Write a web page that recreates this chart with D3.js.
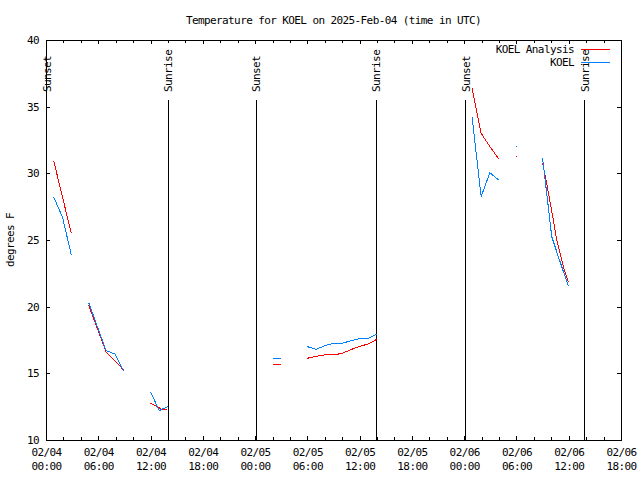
<!DOCTYPE html>
<html>
<head>
<meta charset="utf-8">
<script src="https://cdn.jsdelivr.net/npm/d3@7"></script>
<style>
  html, body { margin: 0; padding: 0; background: #fff; }
  svg { display: block; }
  text { font-family: "DejaVu Sans Mono", "Liberation Mono", monospace; font-size: 11px; letter-spacing: -0.6px; fill: #000; }
</style>
</head>
<body>
<svg id="chart" width="640" height="480"></svg>
<script>
// ---- data (hours after 2025-02-04 00:00 UTC; null = gap) ----
const titleText = "Temperature for KOEL on 2025-Feb-04 (time in UTC)";
const yLabel = "degrees F";
const seriesNames = ["KOEL Analysis", "KOEL"];
const seriesColors = ["#ff0000", "#0080ff"];

const analysisHours = [0.9, 1.9, 2.9, null,
  4.9, 5.9, 6.9, 7.9, 8.9, null,
  12.0, 13.0, 13.25, 13.9, null,
  26.0, 27.0, null,
  30, 31, 32, 33, 34, 35, 36, 37, 37.95, null,
  48.9, 49.95, 50.95, 51.95, null,
  54.0, 54.1, null,
  57.0, 57.47, 58.23, 58.62, 59.38, 59.95];
const analysisTemps = [30.9, 28.2, 25.5, null,
  20.1, 18.35, 16.6, 15.95, 15.25, null,
  12.75, 12.42, 12.3, 12.3, null,
  15.7, 15.7, null,
  16.13, 16.28, 16.38, 16.38, 16.5, 16.78, 17.03, 17.2, 17.55, null,
  36.4, 33.0, 32.0, 31.1, null,
  31.3, 31.3, null,
  30.75, 29.25, 26.5, 25.0, 23.0, 21.87];

const obsHours = [0.9, 1.9, 2.9, null,
  4.9, 5.9, 6.9, 7.9, 8.9, null,
  12.0, 13.0, 13.25, 14.03, null,
  26.0, 27.0, null,
  30, 31, 32, 33, 34, 35, 36, 37, 37.95, null,
  48.9, 49.95, 50.95, 51.95, null,
  54.0, 54.1, null,
  57.0, 57.74, 58.05, 58.81, 59.95];
const obsTemps = [28.2, 26.7, 23.9, null,
  20.3, 18.5, 16.7, 16.45, 15.2, null,
  13.62, 12.18, 12.3, 12.5, null,
  16.13, 16.13, null,
  17.0, 16.8, 17.07, 17.25, 17.25, 17.45, 17.6, 17.63, 17.95, null,
  34.25, 28.25, 30.05, 29.5, null,
  32.05, 32.05, null,
  31.13, 27.0, 25.25, 23.75, 21.55];

const sunLabels = ["Sunset", "Sunrise", "Sunset", "Sunrise", "Sunset", "Sunrise"];
const sunHours = [0.1, 14.03, 24.15, 37.94, 48.18, 61.86];

const yTicks = [10, 15, 20, 25, 30, 35, 40];

// ---- setup ----
const t0 = Date.UTC(2025, 1, 4, 0, 0);
const toDate = h => new Date(t0 + h * 3600e3);
const L = 46, R = 621, T = 40, B = 440;

const svg = d3.select("#chart");
const x = d3.scaleUtc().domain([toDate(0), toDate(66)]).range([L, R]);
const y = d3.scaleLinear().domain([10, 40]).range([B, T]);

// axes
const fmtDay = d3.utcFormat("%m/%d"), fmtTime = d3.utcFormat("%H:%M");
const xMajor = d3.axisBottom(x).ticks(d3.utcHour.every(6)).tickSizeInner(-4).tickSizeOuter(0).tickPadding(8);
const gx = svg.append("g").attr("transform", `translate(0,${B})`).call(xMajor);
gx.selectAll(".tick text").each(function(d) {
  const t = d3.select(this).text(null);
  t.append("tspan").attr("x", 0).attr("dy", "0.71em").text(fmtDay(d));
  t.append("tspan").attr("x", 0).attr("dy", "14px").text(fmtTime(d));
});
svg.append("g").attr("transform", `translate(0,${B})`)
  .call(d3.axisBottom(x).ticks(d3.utcHour.every(2)).tickSizeInner(-3).tickSizeOuter(0).tickFormat(""));
svg.append("g").attr("transform", `translate(0,${T})`)
  .call(d3.axisTop(x).ticks(d3.utcHour.every(6)).tickSizeInner(-4).tickSizeOuter(0).tickFormat(""));
svg.append("g").attr("transform", `translate(0,${T})`)
  .call(d3.axisTop(x).ticks(d3.utcHour.every(2)).tickSizeInner(-3).tickSizeOuter(0).tickFormat(""));
svg.append("g").attr("transform", `translate(${L},0)`)
  .call(d3.axisLeft(y).tickValues(yTicks).tickSizeInner(-4).tickSizeOuter(0).tickPadding(7));
svg.append("g").attr("transform", `translate(${R},0)`)
  .call(d3.axisRight(y).tickValues(yTicks).tickSizeInner(-4).tickSizeOuter(0).tickFormat(""));
svg.selectAll(".domain").remove();
svg.selectAll(".tick line").attr("stroke", "#000").attr("shape-rendering", "crispEdges");
svg.selectAll(".tick text").attr("font-family", null).attr("font-size", null);

// border
svg.append("rect").attr("x", L).attr("y", T).attr("width", R - L).attr("height", B - T)
  .attr("fill", "none").attr("stroke", "#000").attr("shape-rendering", "crispEdges");

// sunrise / sunset markers
const sun = svg.append("g");
sunHours.forEach((h, i) => {
  const sx = x(toDate(h));
  sun.append("line").attr("x1", sx).attr("x2", sx).attr("y1", y(35.5)).attr("y2", B)
    .attr("stroke", "#000").attr("shape-rendering", "crispEdges");
  sun.append("text").attr("transform", `translate(${sx},${y(36.1)}) rotate(-90)`)
    .attr("dy", "0.35em").attr("text-anchor", "start").text(sunLabels[i]);
});

// series
function rows(hours, temps) {
  return hours.map((h, i) => ({ h, v: temps[i] }));
}
const line = d3.line().defined(d => d.h !== null && d.v !== null)
  .x(d => x(toDate(d.h))).y(d => y(d.v));
const series = [rows(analysisHours, analysisTemps), rows(obsHours, obsTemps)];
series.forEach((s, i) => {
  svg.append("path").datum(s).attr("d", line).attr("fill", "none")
    .attr("stroke", seriesColors[i]).attr("stroke-width", 1).attr("shape-rendering", "crispEdges");
});

// legend
seriesNames.forEach((n, i) => {
  const ly = 49 + i * 13;
  svg.append("text").attr("x", 574).attr("y", ly).attr("dy", "0.35em").attr("text-anchor", "end").text(n);
  svg.append("line").attr("x1", 581).attr("x2", 610).attr("y1", ly).attr("y2", ly)
    .attr("stroke", seriesColors[i]).attr("shape-rendering", "crispEdges");
});

// title and y label
svg.append("text").attr("x", (L + R) / 2).attr("y", 20).attr("dy", "0.35em").attr("text-anchor", "middle").text(titleText);
svg.append("text").attr("transform", `translate(10,${(T + B) / 2}) rotate(-90)`)
  .attr("dy", "0.35em").attr("text-anchor", "middle").text(yLabel);
</script>
</body>
</html>
